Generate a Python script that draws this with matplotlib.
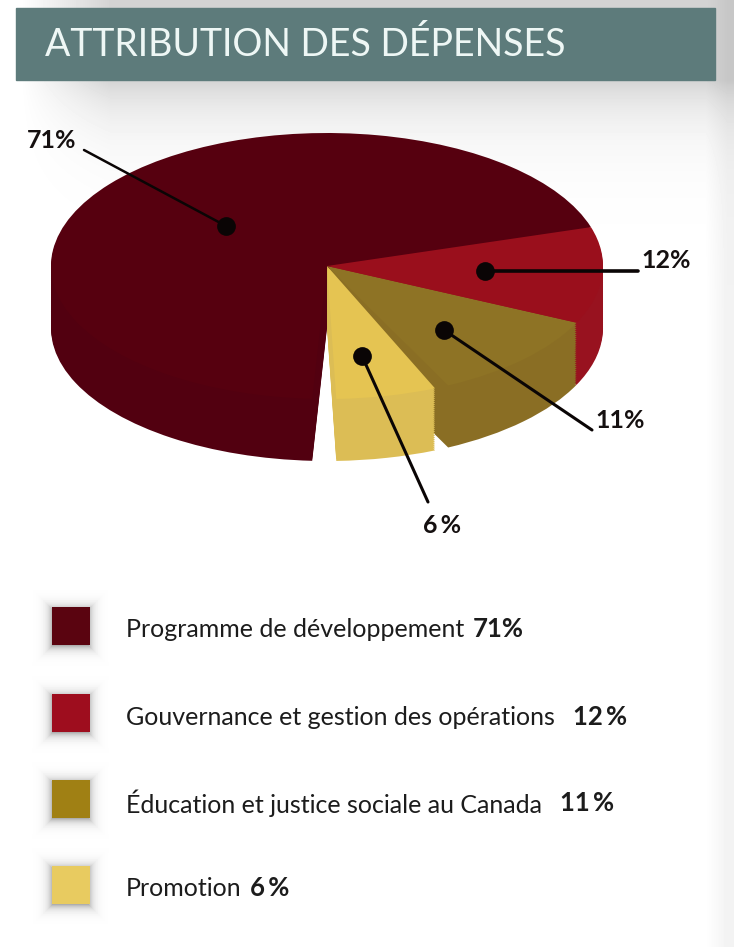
import numpy as np
import matplotlib
matplotlib.use('Agg')
import matplotlib.pyplot as plt
from matplotlib.patches import Rectangle

plt.rcParams['font.family'] = ['Lato', 'DejaVu Sans']

title = 'ATTRIBUTION DES DÉPENSES'
names = ['Programme de développement', 'Gouvernance et gestion des opérations',
         'Éducation et justice sociale au Canada', 'Promotion']
shares = [71, 12, 11, 6]
share_text = ['71%', '12\u2009%', '11\u2009%', '6\u2009%']
callouts = ['71%', '12%', '11%', '6\u2009%']
top_colors = ['#56000f', '#9a0f1c', '#8e7325', '#e5c452']
wall_colors = ['#520010', '#98121f', '#8a6e24', '#dcbd55']
swatch_colors = ['#5a0410', '#9e0d1e', '#a08014', '#e8cb60']

W, H = 734, 947
fig = plt.figure(figsize=(W / 100, H / 100), dpi=100)

swatch_y = [626, 713, 799, 885]
text_y = [629, 717, 803, 888]
share_x = [473, 573, 560, 250]

# page background: soft shadow below the banner and behind the swatches
page = fig.add_axes([0, 0, 1, 1])
page.axis('off')
yy, xx = np.mgrid[0:H, 0:W]
shade = 0.17 * np.exp(-np.clip(yy - 80, 0, None) / 38.0) * np.clip((xx - 20) / 90.0, 0, 1)
shade = shade + 0.05 * np.clip((xx - 705) / 22.0, 0, 1)
for y in swatch_y:
    dist = np.maximum(np.abs(xx - 70) - 18, np.abs(yy - y - 1) - 18).clip(0)
    shade = shade + 0.32 * np.exp(-dist / 4.5)
page.imshow(1 - shade, cmap='gray', vmin=0, vmax=1, extent=(0, W, H, 0), aspect='auto', zorder=0)
page.set_xlim(0, W)
page.set_ylim(H, 0)

page.add_patch(Rectangle((16, 8), 699, 72, color='#5d7b7b', zorder=1))
page.text(45, 45, title, color='#eef7f5', fontsize=27, va='center', ha='left', zorder=2)

# pie: unit circle mapped to an ellipse through the axis limits
cx, cy, rx, ry = 327, 266, 276, 133
depth = 62
pie_ax = fig.add_axes([0, 0, 1, 1], zorder=2)
pie_ax.patch.set_alpha(0)

# ccw from the upper right: maroon, gap, yellow, gap, olive, red
gap_a, gap_b = 1.42, 0.85
sizes = [shares[0], gap_a, shares[3], gap_b, shares[2], shares[1]]


def slice_colors(cols):
    return [cols[0], 'none', cols[3], 'none', cols[2], cols[1]]


steps = 30
for k in range(steps, 0, -1):
    off = -(depth * k / steps) / ry
    pie_ax.pie(sizes, colors=slice_colors(wall_colors), startangle=17, center=(0, off),
               radius=1, normalize=True, wedgeprops=dict(linewidth=0))
pie_ax.pie(sizes, colors=slice_colors(top_colors), startangle=17, center=(0, 0),
           radius=1, normalize=True, wedgeprops=dict(linewidth=0))
pie_ax.set_aspect('auto')
pie_ax.set_xlim(-cx / rx, (W - cx) / rx)
pie_ax.set_ylim((cy - H) / ry, cy / ry)
pie_ax.axis('off')

# leader lines, on top of the pie
lead = fig.add_axes([0, 0, 1, 1], zorder=3)
lead.set_xlim(0, W)
lead.set_ylim(H, 0)
lead.axis('off')
lead.patch.set_alpha(0)
dots = [(226, 226), (485, 271), (444, 330), (362, 356)]
ends = [(84, 150), (638, 271), (592, 430), (428, 502)]
widths = [1.8, 2.6, 2.2, 2.2]
label_pos = [(52, 140), (666, 260), (620, 420), (442, 525)]
for d, e, lw, s, p in zip(dots, ends, widths, callouts, label_pos):
    lead.plot([d[0], e[0]], [d[1], e[1]], color='#0a0505', lw=lw, solid_capstyle='round')
    lead.plot(*d, 'o', color='#0a0505', ms=13.5, mew=0)
    lead.text(p[0], p[1], s, fontsize=18, fontweight='bold',
              ha='center', va='center', color='#151010')

# legend
for i in range(4):
    lead.add_patch(Rectangle((52, swatch_y[i] - 19), 38, 38, color=swatch_colors[i], lw=0))
    lead.text(126, text_y[i], names[i], fontsize=18, color='#1c1c1c', va='center', ha='left')
    lead.text(share_x[i], text_y[i], share_text[i], fontsize=18.5, fontweight='bold',
              color='#1c1c1c', va='center', ha='left')

fig.savefig('out.png', dpi=100)
